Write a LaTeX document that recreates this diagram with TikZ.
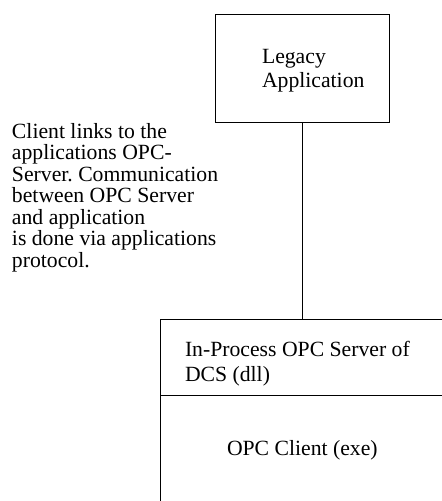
\documentclass[tikz,border=0pt]{standalone}
\usepackage{fontspec}
\setmainfont{Liberation Serif}
\frenchspacing
\begin{document}
\begin{tikzpicture}[x=1pt,y=-1pt,
  frame/.style={draw=black,line width=0.9pt,inner sep=0pt,outer sep=0pt},
  label/.style={inner sep=0pt,outer sep=0pt,align=left,anchor=base west,
    font=\fontsize{21.7}{21.5}\selectfont}]
\useasboundingbox (0,0) rectangle (442,501);
% boxes
\node[frame,minimum width=174pt,minimum height=108pt,anchor=north west] (legacy) at (215,14) {};
\node[frame,minimum width=320pt,minimum height=76pt,anchor=north west] (server) at (160,319) {};
\node[frame,minimum width=320pt,minimum height=140pt,anchor=north west] (client) at (160,395) {};
% link between the application and the server
\draw[line width=0.9pt] (legacy.south) -- (legacy.south |- server.north);
% texts (the anchor sits on the last line's baseline)
\node[label] (tlegacy) at (262,87) {Legacy\\[2.5pt]Application};
\node[label] (tserver) at (185,381) {In-Process OPC Server of\\[3pt]DCS (dll)};
\node[label] (tclient) at (227,455) {OPC Client (exe)};
\node[label] (tnote) at (12,267) {Client links to the\\applications OPC-\\Server. Communication\\between OPC Server\\and application\\is done via applications\\protocol.};
\end{tikzpicture}
\end{document}
